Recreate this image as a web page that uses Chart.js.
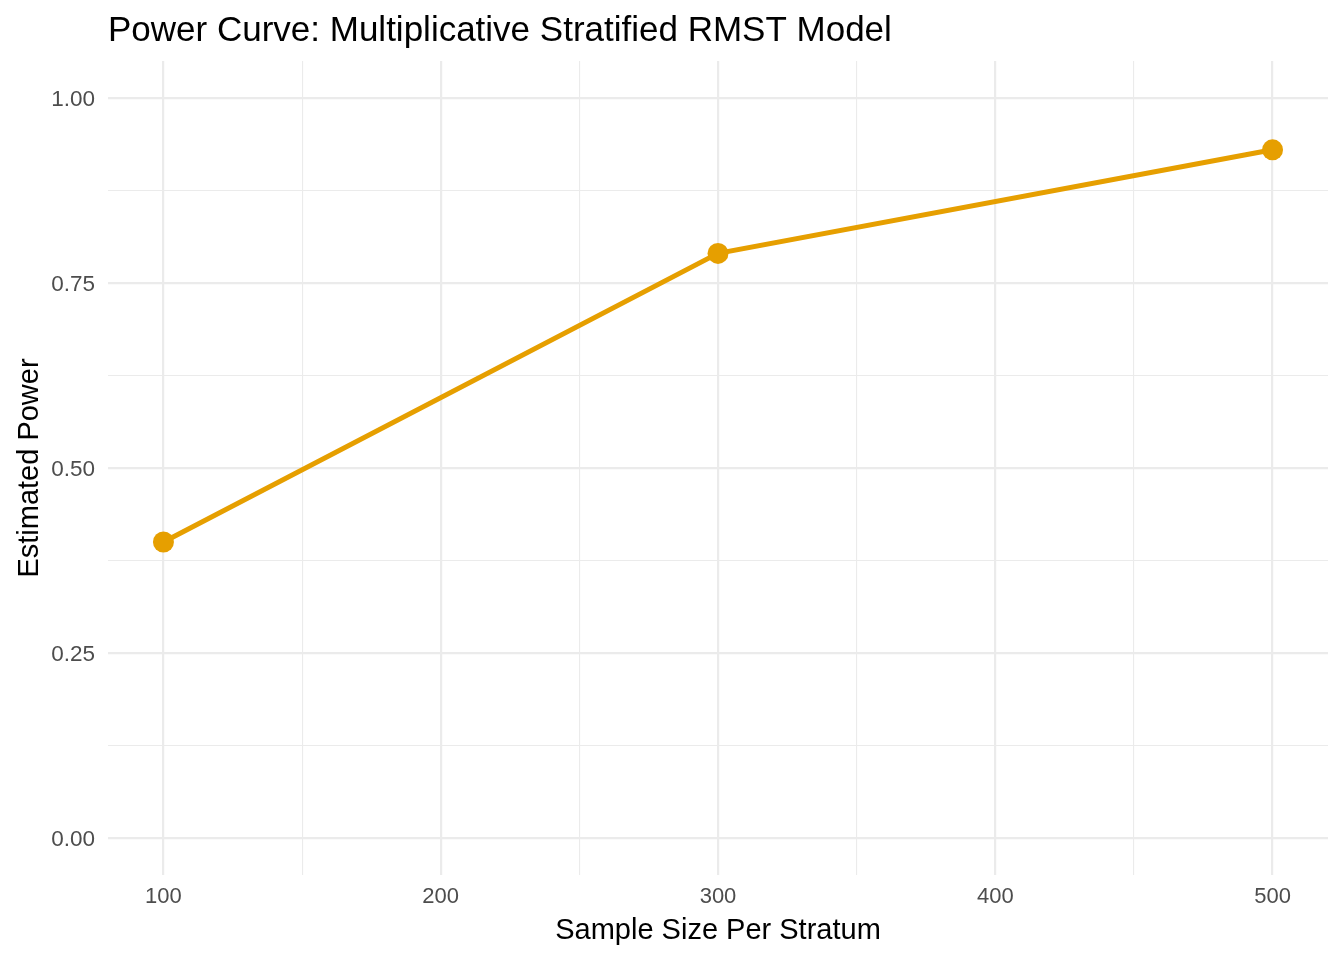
<!DOCTYPE html>
<html>
<head>
<meta charset="utf-8">
<title>Power Curve</title>
<script src="https://cdn.jsdelivr.net/npm/chart.js@4/dist/chart.umd.min.js"></script>
<style>
  html, body { margin: 0; padding: 0; background: #fff; }
  canvas { display: block; }
</style>
</head>
<body>
<canvas id="power-chart" width="1344" height="960"></canvas>
<script>
// Data
const sampleSizes = [100, 300, 500];
const powerValues = [0.40, 0.79, 0.93];

// Grid / tick positions (majors get labels, minors just a thin line)
const xMajorTicks = [100, 200, 300, 400, 500];
const xMinorTicks = [150, 250, 350, 450];
const yMajorTicks = [0, 0.25, 0.5, 0.75, 1.0];
const yMinorTicks = [0.125, 0.375, 0.625, 0.875];

const FONT = '"Liberation Sans", Arial, sans-serif';
const CHART_LEFT = 108;
const CHART_TOP = 61;
const CHART_BOTTOM = 875;

// draws the plot title left-aligned with the panel, like ggplot does
const titlePlugin = {
    id: 'panelTitle',
    afterDraw(chart) {
        const ctx = chart.ctx;
        ctx.save();
        ctx.fillStyle = '#000';
        ctx.font = '35px ' + FONT;
        ctx.textBaseline = 'alphabetic';
        ctx.textAlign = 'left';
        ctx.fillText('Power Curve: Multiplicative Stratified RMST Model', chart.chartArea.left, 41);
        ctx.restore();
    }
};

function isMajor(list, v) {
    return list.some(t => Math.abs(t - v) < 1e-9);
}

const ctx = document.getElementById('power-chart').getContext('2d');
const powerChart = new Chart(ctx, {
    type: 'line',
    data: {
        datasets: [{
            label: 'Estimated Power',
            data: sampleSizes.map((n, i) => ({ x: n, y: powerValues[i] })),
            borderColor: '#E69F00',
            backgroundColor: '#E69F00',
            borderWidth: 5,
            pointRadius: 10.5,
            pointHoverRadius: 10.5,
            pointBorderWidth: 0,
            tension: 0
        }]
    },
    options: {
        responsive: false,
        animation: false,
        devicePixelRatio: 1,
        layout: { padding: { top: CHART_TOP, right: 16, bottom: 0, left: 0 } },
        plugins: {
            legend: { display: false },
            tooltip: { enabled: false },
            title: { display: false }
        },
        scales: {
            x: {
                type: 'linear',
                min: 80,
                max: 520,
                border: { display: false },
                grid: {
                    color: '#EBEBEB',
                    lineWidth: c => isMajor(xMajorTicks, c.tick.value) ? 2.2 : 1.1,
                    drawTicks: false
                },
                afterBuildTicks: scale => {
                    scale.ticks = [...xMajorTicks, ...xMinorTicks].sort((a, b) => a - b).map(v => ({ value: v }));
                },
                afterFit: scale => { scale.height = 960 - CHART_BOTTOM; },
                ticks: {
                    color: '#4D4D4D',
                    font: { family: FONT, size: 22 },
                    padding: 9,
                    maxRotation: 0,
                    autoSkip: false,
                    callback: v => isMajor(xMajorTicks, v) ? String(v) : ''
                },
                title: {
                    display: true,
                    text: 'Sample Size Per Stratum',
                    color: '#000',
                    font: { family: FONT, size: 29 },
                    padding: { top: 0, bottom: 12 }
                }
            },
            y: {
                type: 'linear',
                min: -0.05,
                max: 1.05,
                border: { display: false },
                grid: {
                    color: '#EBEBEB',
                    lineWidth: c => isMajor(yMajorTicks, c.tick.value) ? 2.2 : 1.1,
                    drawTicks: false
                },
                afterBuildTicks: scale => {
                    scale.ticks = [...yMajorTicks, ...yMinorTicks].sort((a, b) => a - b).map(v => ({ value: v }));
                },
                afterFit: scale => { scale.width = CHART_LEFT; },
                ticks: {
                    color: '#4D4D4D',
                    font: { family: FONT, size: 22.5 },
                    padding: 13,
                    labelOffset: 2,
                    autoSkip: false,
                    callback: v => isMajor(yMajorTicks, v) ? v.toFixed(2) : ''
                },
                title: {
                    display: true,
                    text: 'Estimated Power',
                    color: '#000',
                    font: { family: FONT, size: 29 },
                    padding: { top: 13, bottom: 0 }
                }
            }
        }
    },
    plugins: [titlePlugin]
});
</script>
</body>
</html>
